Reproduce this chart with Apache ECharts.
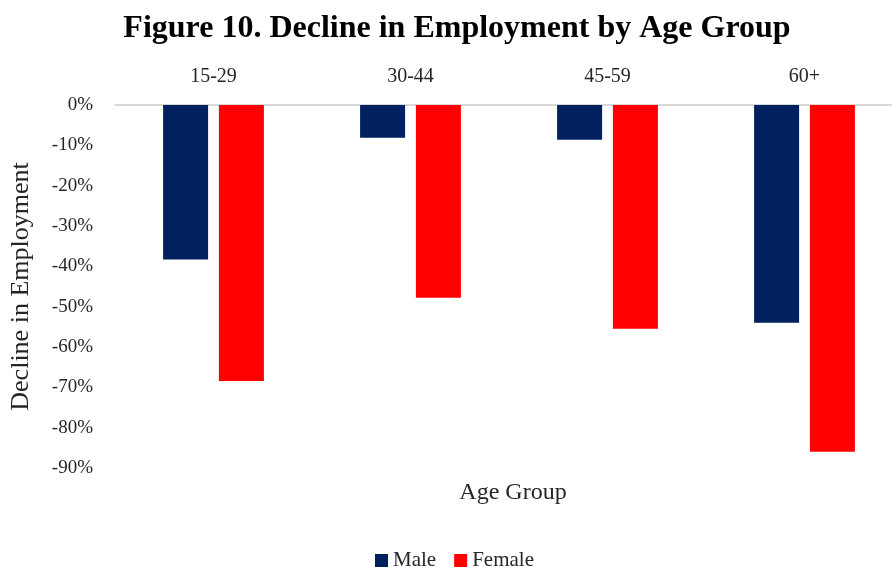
<!DOCTYPE html>
<html><head><meta charset="utf-8">
<script src="https://cdn.jsdelivr.net/npm/echarts@6/dist/echarts.min.js"></script>
<style>html,body{margin:0;padding:0;background:#fff;overflow:hidden}#c{width:903px;height:567px}</style>
</head><body><div id="c"></div>
<script>
var categories = ['15-29', '30-44', '45-59', '60+'];
var maleValues = [-0.383, -0.081, -0.086, -0.540];
var femaleValues = [-0.684, -0.478, -0.555, -0.860];
var yTicks = { min: -0.9, max: 0, interval: 0.1 };

var serif = '"Liberation Serif", "DejaVu Serif", serif';
var chart = echarts.init(document.getElementById('c'));
chart.setOption({
  animation: false,
  backgroundColor: '#ffffff',
  title: [
    { text: 'Figure 10. Decline in Employment by Age Group', left: 452, top: 8, textAlign: 'center',
      textStyle: { fontFamily: serif, fontWeight: 'bold', fontSize: 32, color: '#000' } },
    { text: 'Age Group', left: 508, top: 476, textAlign: 'center',
      textStyle: { fontFamily: serif, fontWeight: 'normal', fontSize: 24, color: '#262626' } }
  ],
  legend: {
    top: 545, left: 370, itemWidth: 13, itemHeight: 13, itemGap: 18,
    icon: 'rect',
    textStyle: { fontFamily: serif, fontSize: 21, color: '#262626' },
    data: ['Male', 'Female']
  },
  grid: { left: 115, top: 105, right: 0, bottom: 99, containLabel: false },
  xAxis: {
    type: 'category', position: 'top', data: categories,
    axisLine: { lineStyle: { color: '#d9d9d9', width: 2 } },
    axisTick: { show: false },
    axisLabel: { fontFamily: serif, fontSize: 20, color: '#262626', margin: 18 }
  },
  yAxis: {
    type: 'value', min: yTicks.min, max: yTicks.max, interval: yTicks.interval,
    name: 'Decline in Employment', nameLocation: 'middle', nameGap: 81,
    nameTextStyle: { fontFamily: serif, fontSize: 26, color: '#262626' },
    splitLine: { show: false },
    axisLine: { show: false }, axisTick: { show: false },
    axisLabel: { fontFamily: serif, fontSize: 19, color: '#262626', margin: 22,
      formatter: function (v) { return Math.round(v * 100) + '%'; } }
  },
  series: [
    { name: 'Male', type: 'bar', data: maleValues, barWidth: 45, barGap: '24%',
      itemStyle: { color: '#002060' } },
    { name: 'Female', type: 'bar', data: femaleValues, barWidth: 45, barGap: '24%',
      itemStyle: { color: '#ff0000' } }
  ]
});
</script></body></html>
